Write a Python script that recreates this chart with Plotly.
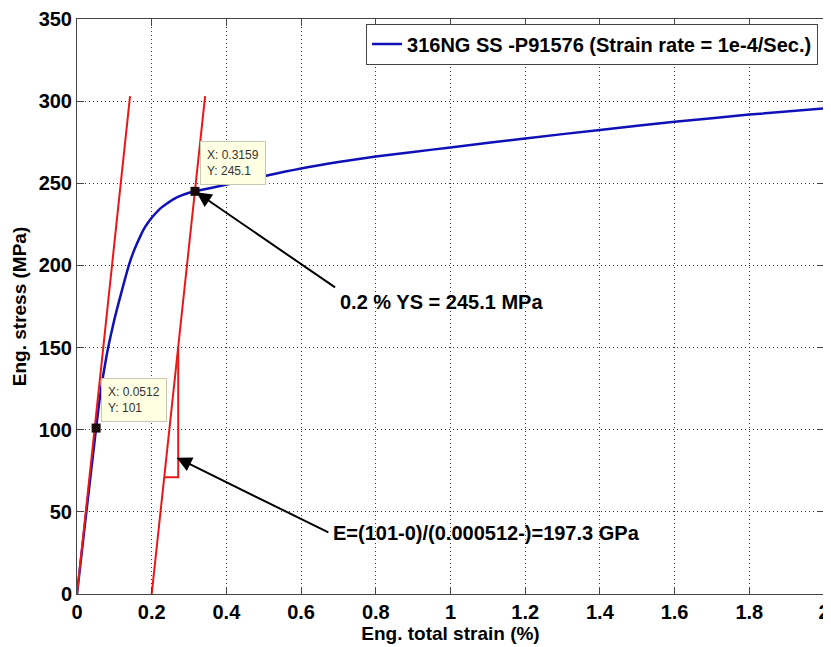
import plotly.graph_objects as go

# Blue stress-strain curve
strain = [0, 0.02, 0.0512, 0.06, 0.07, 0.08, 0.09, 0.10, 0.11, 0.12, 0.13, 0.14, 0.15, 0.16,
          0.17, 0.18, 0.19, 0.20, 0.22, 0.24, 0.26, 0.28, 0.30, 0.3159, 0.41, 0.5, 0.6, 0.7,
          0.8, 0.9, 1.0, 1.2, 1.4, 1.6, 1.8, 2.0]
stress = [0, 40, 101, 117.5, 133, 146, 157, 167, 176, 184.5, 193, 201, 207.5, 213,
          218, 222.5, 226, 229, 234, 237.5, 240.5, 242.6, 244.2, 245.1, 249.7, 254.3, 259, 262.9,
          266.3, 269.1, 271.8, 277.3, 282.5, 287.4, 291.8, 295.6]

# Red construction lines
elastic_x = [0, 0.142]
elastic_y = [0, 303]
offset_x = [0.2, 0.343]
offset_y = [0, 303]
tri_x = [0.2335, 0.271, 0.271]
tri_y = [71, 71, 150]

# Data tips
tip_x = [0.0512, 0.3159]
tip_y = [101, 245.1]

x_ticks = [0, 0.2, 0.4, 0.6, 0.8, 1, 1.2, 1.4, 1.6, 1.8, 2]
x_ticklabels = ["0", "0.2", "0.4", "0.6", "0.8", "1", "1.2", "1.4", "1.6", "1.8", "2"]
y_ticks = [0, 50, 100, 150, 200, 250, 300, 350]

FONT = "Liberation Sans, Arial, sans-serif"
RED = "#e81818"
BLUE = "#1010b8"

fig = go.Figure()
fig.add_trace(go.Scatter(x=strain, y=stress, mode="lines", line=dict(color=BLUE, width=2.5),
                         name="316NG SS -P91576 (Strain rate = 1e-4/Sec.)", line_shape="spline",
                         line_smoothing=0.6))
for xs, ys in [(elastic_x, elastic_y), (offset_x, offset_y), (tri_x, tri_y)]:
    fig.add_trace(go.Scatter(x=xs, y=ys, mode="lines", line=dict(color=RED, width=2),
                             showlegend=False, hoverinfo="skip"))
fig.add_trace(go.Scatter(x=tip_x, y=tip_y, mode="markers",
                         marker=dict(symbol="square", size=9, color="#1a0a0a"),
                         showlegend=False))

annotations = []
# data tip boxes
for tx, ty, label in [(tip_x[0], tip_y[0], "X: 0.0512<br>Y: 101"),
                      (tip_x[1], tip_y[1], "X: 0.3159<br>Y: 245.1")]:
    annotations.append(dict(x=tx, y=ty, xref="x", yref="y", text=label, showarrow=False,
                            xanchor="left", yanchor="bottom", xshift=5, yshift=6, align="left",
                            bgcolor="#ffffe4", bordercolor="#c8c8b0", borderwidth=1, borderpad=6,
                            font=dict(family=FONT, size=12, color="#333333")))
# arrows
annotations.append(dict(x=0.320, y=244.5, ax=0.695, ay=186, xref="x", yref="y", axref="x", ayref="y",
                        text="", showarrow=True, arrowhead=2, arrowsize=1.5, arrowwidth=2,
                        arrowcolor="#000000", standoff=0))
annotations.append(dict(x=0.267, y=83, ax=0.677, ay=37, xref="x", yref="y", axref="x", ayref="y",
                        text="", showarrow=True, arrowhead=2, arrowsize=1.5, arrowwidth=2,
                        arrowcolor="#000000", standoff=0))
annotations.append(dict(x=0.699, y=178, xref="x", yref="y", text="0.2 % YS = 245.1 MPa",
                        showarrow=False, xanchor="left", yanchor="middle",
                        font=dict(family=FONT, size=20, color="#000000", weight="bold")))
annotations.append(dict(x=0.68, y=37, xref="x", yref="y", text="E=(101-0)/(0.000512-)=197.3 GPa",
                        showarrow=False, xanchor="left", yanchor="middle",
                        font=dict(family=FONT, size=20, color="#000000", weight="bold")))

axis_common = dict(showline=True, linecolor="#444444", linewidth=1, mirror="ticks",
                   ticks="inside", ticklen=7, tickcolor="#444444",
                   showgrid=True, gridcolor="#333333", gridwidth=1, griddash="1px,3px",
                   zeroline=False, ticklabeloverflow="allow", automargin=False,
                   tickfont=dict(family=FONT, size=20, color="#000000", weight="bold"))

fig.update_layout(
    width=823, height=639,
    margin=dict(l=69, r=7, t=11, b=53),
    paper_bgcolor="white", plot_bgcolor="white",
    xaxis=dict(range=[0, 2], tickvals=x_ticks, ticktext=x_ticklabels,
               title=dict(text="Eng. total strain (%)", standoff=2,
                          font=dict(family=FONT, size=19, color="#000000", weight="bold")),
               **axis_common),
    yaxis=dict(range=[0, 350], tickvals=y_ticks,
               title=dict(text="Eng. stress (MPa)", standoff=6,
                          font=dict(family=FONT, size=19, color="#000000", weight="bold")),
               **axis_common),
    legend=dict(x=0.992, y=0.992, xanchor="right", yanchor="top",
                bgcolor="white", bordercolor="#444444", borderwidth=1,
                font=dict(family=FONT, size=20, color="#000000", weight="bold"),
                tracegroupgap=0),
    annotations=annotations,
    showlegend=True,
)

fig.write_html("out.html")
